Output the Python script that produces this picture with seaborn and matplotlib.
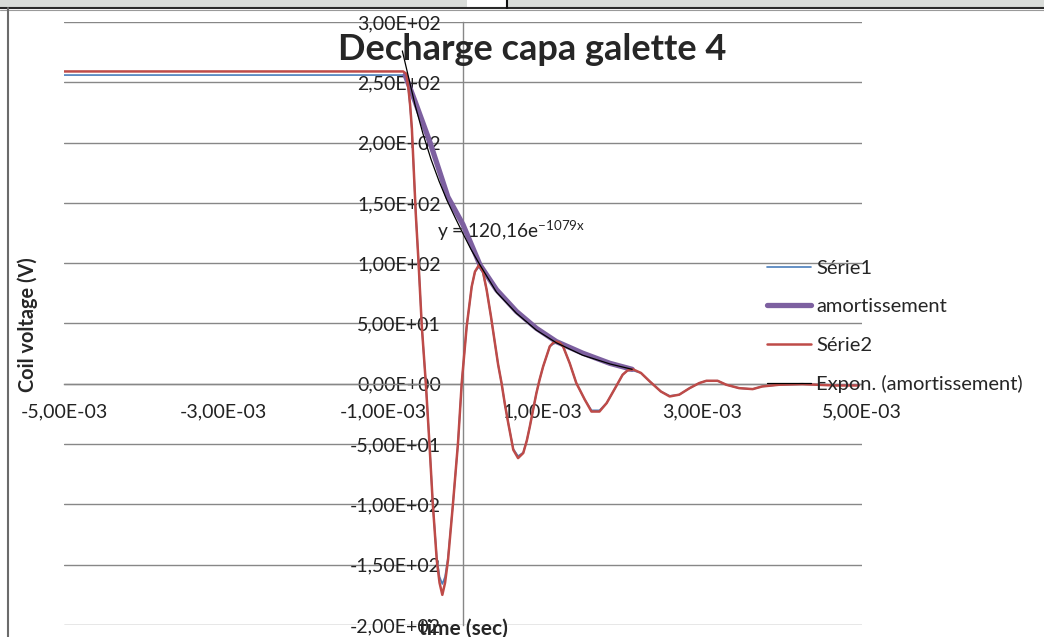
import numpy as np
import pandas as pd
import seaborn as sns
import matplotlib.pyplot as plt
from matplotlib.patches import Rectangle
from matplotlib.lines import Line2D
from matplotlib.ticker import FuncFormatter

# time in ms, voltage in V
serie2_t = [-5.0, -0.75, -0.71, -0.684, -0.6625, -0.641, -0.591, -0.559, -0.516, -0.466,
            -0.421, -0.379, -0.329, -0.294, -0.259, -0.225, -0.1875, -0.125, -0.0625, -0.016,
            0.046, 0.109, 0.15, 0.20, 0.25, 0.296, 0.35, 0.40, 0.44, 0.483,
            0.525, 0.567, 0.63, 0.69, 0.755, 0.80, 0.8375, 0.88, 0.92, 0.96,
            1.004, 1.0875, 1.13, 1.17, 1.21, 1.254, 1.3375, 1.42, 1.525, 1.61,
            1.71, 1.80, 1.92, 2.0, 2.06, 2.13, 2.23, 2.34, 2.48, 2.59,
            2.71, 2.84, 2.96, 3.05, 3.19, 3.30, 3.46, 3.63, 3.75, 3.96,
            4.25, 4.67, 4.96]
serie2_v = [259, 259, 257, 245, 231, 212, 140, 103, 47.5, 0.6,
            -49, -99, -146, -165, -175, -165, -146, -99, -49, 0.6,
            47.5, 80.6, 93, 98.5, 93, 78, 56, 33.7, 16, 0.6,
            -17, -32.6, -54.7, -61.6, -57.4, -47, -35.4, -21, -7.7, 3.5,
            14.3, 31, 34, 35, 34, 31, 17, 0.6, -13, -23,
            -23, -16, -2, 7.5, 11, 12, 9, 2, -6.4, -10.5,
            -9, -3.6, 0.6, 2.5, 2.5, -0.8, -3.6, -4.4, -2.2, -0.8,
            -0.3, -1.4, -1.4]

serie1_v = [256, 256, 255, 244, 230, 211, 140, 103, 47.5, 0.6,
            -49, -99, -144, -160, -166, -160, -144, -99, -49, 0.6,
            47.5, 80.6, 93, 97, 92, 78, 56, 33.7, 16, 0.6,
            -17, -32.6, -54, -60, -57, -47, -35.4, -21, -7.7, 3.5,
            14.3, 31, 33, 34, 33, 31, 17, 0.6, -13, -22,
            -22, -16, -2, 7.5, 11, 11, 9, 2, -6.4, -10,
            -9, -3.6, 0.6, 2.5, 2.5, -0.8, -3.6, -4.4, -2.2, -0.8,
            -0.3, -1.0, -1.0]

amort_t = [-0.725, -0.6, -0.4125, -0.19, 0.0, 0.2125,
           0.42, 0.67, 0.92, 1.17, 1.50, 1.84, 2.12]
amort_v = [256, 234, 200, 155, 132, 98.6,
           78, 60, 46, 35, 25.4, 17, 12]

expon_t = [-0.76, -0.6, -0.5, -0.4, -0.3, -0.2, -0.1, 0.0, 0.1, 0.2125,
           0.42, 0.67, 0.92, 1.17, 1.5, 1.84, 2.12]
expon_v = [276, 231, 207, 186, 168, 152, 138, 124.5, 111.5, 98.5,
           76, 58.5, 44.5, 34, 23.7, 16.5, 12]

x_ticks = [-5e-3, -3e-3, -1e-3, 1e-3, 3e-3, 5e-3]
y_ticks = [-200, -150, -100, -50, 0, 50, 100, 150, 200, 250, 300]

sns.set_style("white")
plt.rcParams['font.family'] = ['Lato', 'DejaVu Sans']

W, H = 1044, 637
fig = plt.figure(figsize=(W / 100, H / 100), dpi=100)
ax = fig.add_axes([64 / W, 1 - 625 / H, (862 - 64) / W, (625 - 22) / H])

ms = lambda t: np.array(t) / 1000.0
sns.lineplot(x=ms(serie2_t), y=serie1_v, ax=ax, color='#4a7ebb', lw=1.2,
             label='Série1', zorder=2)
sns.lineplot(x=ms(amort_t), y=amort_v, ax=ax, color='#7d60a0', lw=3.8,
             label='amortissement', zorder=3)
sns.lineplot(x=ms(serie2_t), y=serie2_v, ax=ax, color='#be4b48', lw=1.8,
             label='Série2', zorder=4)
sns.lineplot(x=ms(expon_t), y=expon_v, ax=ax, color='black', lw=0.9,
             label='Expon. (amortissement)', zorder=5)

ax.set_xlim(-5e-3, 5e-3)
ax.set_ylim(-200, 300)
ax.set_xticks(x_ticks)
ax.set_yticks(y_ticks)
fmt = FuncFormatter(lambda v, p: f"{v:.2E}".replace('.', ','))
ax.xaxis.set_major_formatter(fmt)
ax.yaxis.set_major_formatter(fmt)

for side in ['top', 'right']:
    ax.spines[side].set_visible(False)
ax.spines['left'].set_position(('data', 0))
ax.spines['bottom'].set_position(('data', 0))
for side in ['left', 'bottom']:
    ax.spines[side].set_color('#878787')
    ax.spines[side].set_linewidth(1)
    ax.spines[side].set_zorder(1)

ax.grid(axis='y', color='#878787', lw=1)
ax.grid(axis='x', visible=False)
ax.set_axisbelow(True)
ax.tick_params(axis='x', direction='out', length=6, width=1, color='#878787',
               pad=8, labelsize=14, labelcolor='#222222')
ax.tick_params(axis='y', direction='out', length=5, width=1, color='#878787',
               pad=11, labelsize=14, labelcolor='#222222')
ax.set_xlabel('')
ax.set_ylabel('')

ax.text(-0.33e-3, 127, r"y = 120,16e$^{\mathregular{-1079x}}$", fontsize=13.8,
        color='#222222', va='center', ha='left', zorder=6)

fig.text(532 / W, 1 - 50 / H, 'Decharge capa galette 4', fontsize=26,
         fontweight='bold', ha='center', va='center')
fig.text(28 / W, 1 - 325 / H, 'Coil voltage (V)', fontsize=14.3, fontweight='bold',
         rotation=90, ha='center', va='center')
fig.text(463 / W, 1 - 629 / H, 'time (sec)', fontsize=15, fontweight='bold',
         ha='center', va='center')

ax.legend(loc='upper left', bbox_to_anchor=(767 / W, 1 - 260 / H),
          bbox_transform=fig.transFigure, frameon=False, fontsize=14.5,
          handlelength=2.2, handletextpad=0.25, labelspacing=1.05,
          borderaxespad=0, borderpad=0)

# window frame around the screenshot
fig.add_artist(Rectangle((0, 1 - 7.5 / H), 1, 7.5 / H, transform=fig.transFigure,
                         facecolor='#d9dcd9', edgecolor='none'))
fig.add_artist(Rectangle((467 / W, 1 - 7.5 / H), 40 / W, 7.5 / H,
                         transform=fig.transFigure, facecolor='white', edgecolor='none'))
fig.add_artist(Line2D([0, 1], [1 - 8.2 / H, 1 - 8.2 / H], transform=fig.transFigure,
                      color='#2a2a2a', lw=1.5))
fig.add_artist(Line2D([0, 1], [1 - 9.6 / H, 1 - 9.6 / H], transform=fig.transFigure,
                      color='#9a9a9a', lw=0.8))
fig.add_artist(Line2D([507 / W, 507 / W], [1, 1 - 8 / H], transform=fig.transFigure,
                      color='#111111', lw=1.5))
fig.add_artist(Line2D([8 / W, 8 / W], [0, 1 - 8 / H], transform=fig.transFigure,
                      color='#6b6b6b', lw=1.5))

fig.savefig('out.png', dpi=100)
